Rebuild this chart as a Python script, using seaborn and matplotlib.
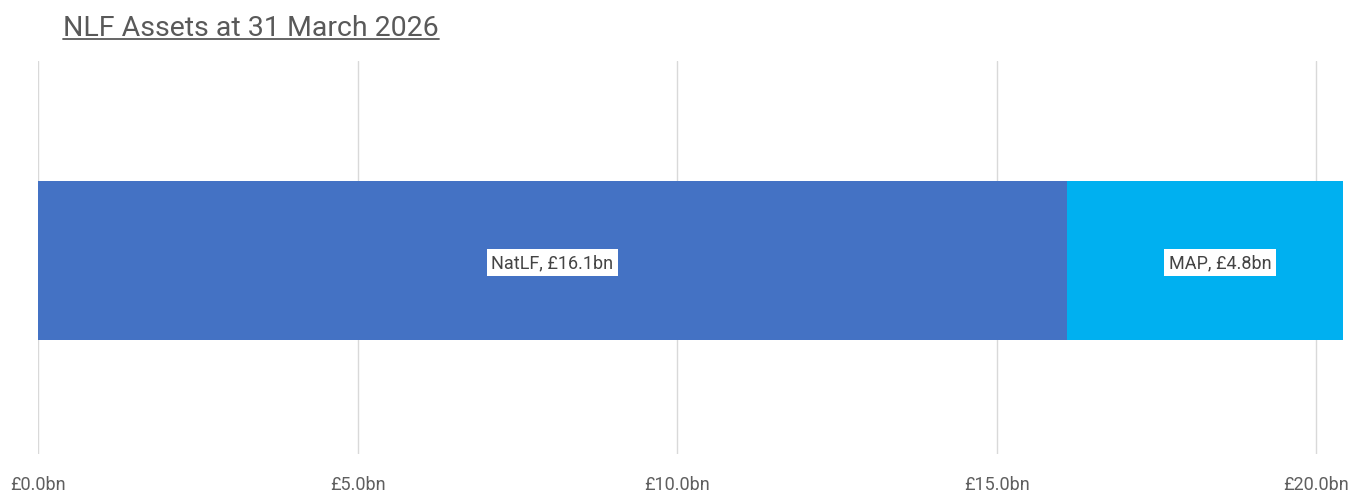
import matplotlib
matplotlib.use('Agg')
import matplotlib.pyplot as plt
import seaborn as sns
import pandas as pd
from matplotlib.lines import Line2D
from matplotlib.ticker import FuncFormatter

# data
segments = ['NatLF', 'MAP']
values = [16.1, 4.8]
colors = ['#4472C4', '#00B0F0']
ticks = [0, 5, 10, 15, 20]
title = 'NLF Assets at 31 March 2026'


def main():
    sns.set_style('white')
    plt.rcParams['font.family'] = ['Roboto', 'DejaVu Sans']

    fig = plt.figure(figsize=(13.66, 5.02), dpi=100)
    ax = fig.add_axes([38 / 1366, 1 - 455 / 502, (1343 - 38) / 1366, (455 - 62) / 502])

    # stacked bar: draw cumulative totals back to front
    cum = []
    total = 0
    for v in values:
        total += v
        cum.append(total)
    df = pd.DataFrame({'seg': segments, 'val': values, 'cum': cum, 'row': ['a', 'a']})

    for i in reversed(range(len(segments))):
        sub = df.iloc[[i]]
        sns.barplot(data=sub, x='cum', y='row', orient='h', color=colors[i],
                    width=0.405, ax=ax, saturation=1, edgecolor='none', linewidth=0)

    ax.set_xlim(0, 20.42)
    ax.set_ylim(0.5 - 0.008, -0.5 - 0.008)
    ax.set_xticks(ticks)
    ax.xaxis.set_major_formatter(FuncFormatter(lambda x, p: '£{:.1f}bn'.format(x)))
    ax.set_yticks([])
    ax.set_xlabel('')
    ax.set_ylabel('')
    ax.grid(axis='x', color='#d9d9d9', linewidth=1)
    ax.set_axisbelow(True)
    for s in ax.spines.values():
        s.set_visible(False)
    ax.tick_params(axis='x', length=0, pad=15, labelsize=13, labelcolor='#5f5f5f')

    # segment labels
    start = 0
    for i, seg in enumerate(segments):
        mid = start + values[i] / 2
        ax.text(mid, 0.005, '{}, £{:.1f}bn'.format(seg, values[i]), ha='center', va='center',
                fontsize=13, color='#444444',
                bbox=dict(boxstyle='square,pad=0.25', facecolor='white', edgecolor='none'))
        start += values[i]

    # underlined title
    t = fig.text(63 / 1366, 1 - 36 / 502, title, fontsize=20.5, color='#595959', ha='left', va='baseline')
    fig.canvas.draw()
    bb = t.get_window_extent()
    y = 1 - 40 / 502
    fig.add_artist(Line2D([bb.x0 / fig.bbox.width, bb.x1 / fig.bbox.width], [y, y],
                          color='#595959', linewidth=1.3, transform=fig.transFigure))

    plt.savefig('out.png', dpi=100)


if __name__ == '__main__':
    main()
